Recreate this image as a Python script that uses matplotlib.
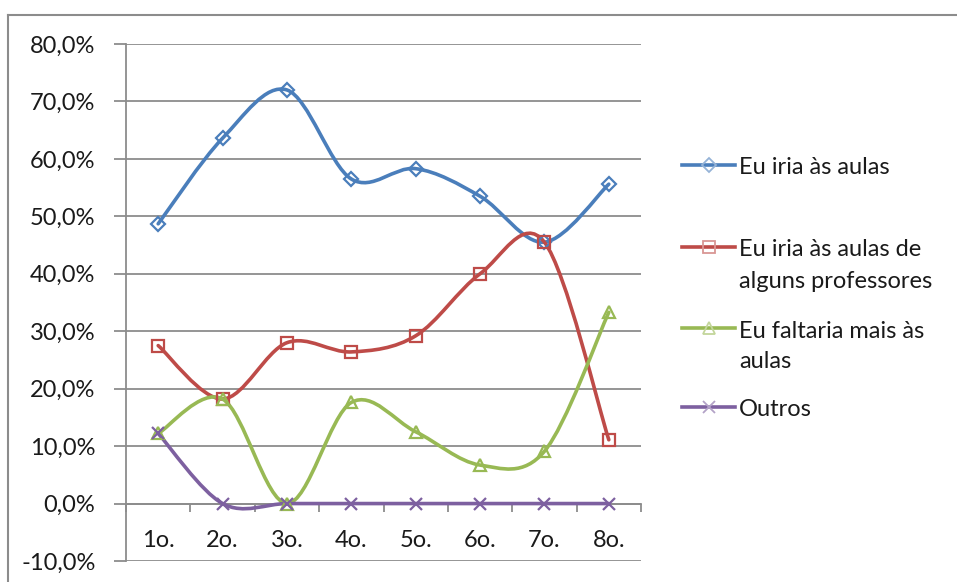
import numpy as np
from matplotlib import pyplot as plt
from matplotlib.path import Path
from matplotlib.patches import PathPatch
from matplotlib.lines import Line2D
from matplotlib.ticker import FuncFormatter, MultipleLocator

plt.rcParams['font.family'] = ['Lato', 'DejaVu Sans']
plt.rcParams['font.size'] = 17

# data (share of answers per year)
anos = ['1o.', '2o.', '3o.', '4o.', '5o.', '6o.', '7o.', '8o.']
iria = [48.7, 63.6, 72.0, 56.5, 58.3, 53.5, 45.5, 55.6]
alguns = [27.5, 18.2, 28.0, 26.4, 29.2, 40.0, 45.5, 11.1]
faltaria = [12.2, 18.2, 0.0, 17.6, 12.5, 6.7, 9.1, 33.3]
outros = [12.2, 0.0, 0.0, 0.0, 0.0, 0.0, 0.0, 0.0]

labels = ['Eu iria às aulas', 'Eu iria às aulas de\nalguns professores',
          'Eu faltaria mais às\naulas', 'Outros']
colors = ['#4A7EBB', '#BE4B48', '#98B954', '#7D60A0']
legend_mk = ['#95B3D7', '#D99694', '#C3D69B', '#B3A2C7']
markers = ['D', 's', '^', 'x']
msizes = [7, 9, 9, 9]

W, H = 957, 582
fig = plt.figure(figsize=(W / 100, H / 100), dpi=100)
ax = fig.add_axes([126 / W, 1 - 561 / H, 515 / W, 517 / H])


def smooth_path(xs, ys):
    # excel-like smoothed line: cubic bezier through the points
    p = np.column_stack([xs, ys]).astype(float)
    n = len(p)
    verts = [p[0]]
    codes = [Path.MOVETO]
    for i in range(n - 1):
        p0 = p[i - 1] if i > 0 else p[i]
        p3 = p[i + 2] if i + 2 < n else p[i + 1]
        c1 = p[i] + (p[i + 1] - p0) / 6
        c2 = p[i + 1] - (p3 - p[i]) / 6
        verts += [c1, c2, p[i + 1]]
        codes += [Path.CURVE4] * 3
    return Path(verts, codes)


x = np.arange(len(anos))
series = [iria, alguns, faltaria, outros]
for vals, c, m, ms in zip(series, colors, markers, msizes):
    y = np.array(vals) / 100
    ax.add_patch(PathPatch(smooth_path(x, y), facecolor='none', edgecolor=c,
                           lw=2.6, zorder=3, capstyle='round', joinstyle='round'))
    ax.plot(x, y, ls='none', marker=m, ms=ms, mfc='none', mec=c, mew=1.6, zorder=4)

ax.set_xlim(-0.5, 7.5)
ax.set_ylim(-0.1, 0.8)

grid_c = '#8C8C8C'
txt_c = '#1a1a1a'
ax.yaxis.set_major_locator(MultipleLocator(0.1))
ax.yaxis.set_major_formatter(FuncFormatter(lambda v, p: f'{v * 100:.1f}%'.replace('.', ',')))
ax.grid(axis='y', color=grid_c, lw=1.3)
ax.set_axisbelow(True)
ax.tick_params(axis='y', length=9, width=1.3, color=grid_c, pad=13, labelcolor=txt_c)

ax.set_xticks(x)
ax.set_xticklabels(anos)
ax.set_xticks(np.arange(-0.5, 8, 1), minor=True)
ax.tick_params(axis='x', which='major', length=0, pad=19, labelcolor=txt_c)
ax.tick_params(axis='x', which='minor', length=6, width=1.3, color=grid_c)

for s in ['top', 'right']:
    ax.spines[s].set_visible(False)
ax.spines['bottom'].set_position(('data', 0))
ax.spines['bottom'].set_color(grid_c)
ax.spines['bottom'].set_linewidth(1.3)
ax.spines['left'].set_color(grid_c)
ax.spines['left'].set_linewidth(1.3)

# legend drawn by hand, handle aligned with first text line
leg_y = [165, 247, 328, 407]
for lab, c, mc, m, ly in zip(labels, colors, legend_mk, markers, leg_y):
    yf = 1 - ly / H
    fig.add_artist(Line2D([682 / W, 735 / W], [yf, yf], color=c, lw=2.6))
    fig.add_artist(Line2D([708.5 / W], [yf], marker=m, ms=7 if m == 'D' else 9,
                          mfc='none', mec=mc, mew=1.3, ls='none'))
    for k, line in enumerate(lab.split('\n')):
        fig.text(739 / W, 1 - (ly + 1 + 31 * k) / H, line, ha='left',
                 va='center_baseline', color=txt_c)

# outer frame of the chart area
fig.add_artist(Line2D([8 / W, 1], [1 - 15 / H, 1 - 15 / H], color=grid_c, lw=1.5))
fig.add_artist(Line2D([8 / W, 8 / W], [0, 1 - 15 / H], color=grid_c, lw=1.5))

fig.savefig('out.png', dpi=100)
